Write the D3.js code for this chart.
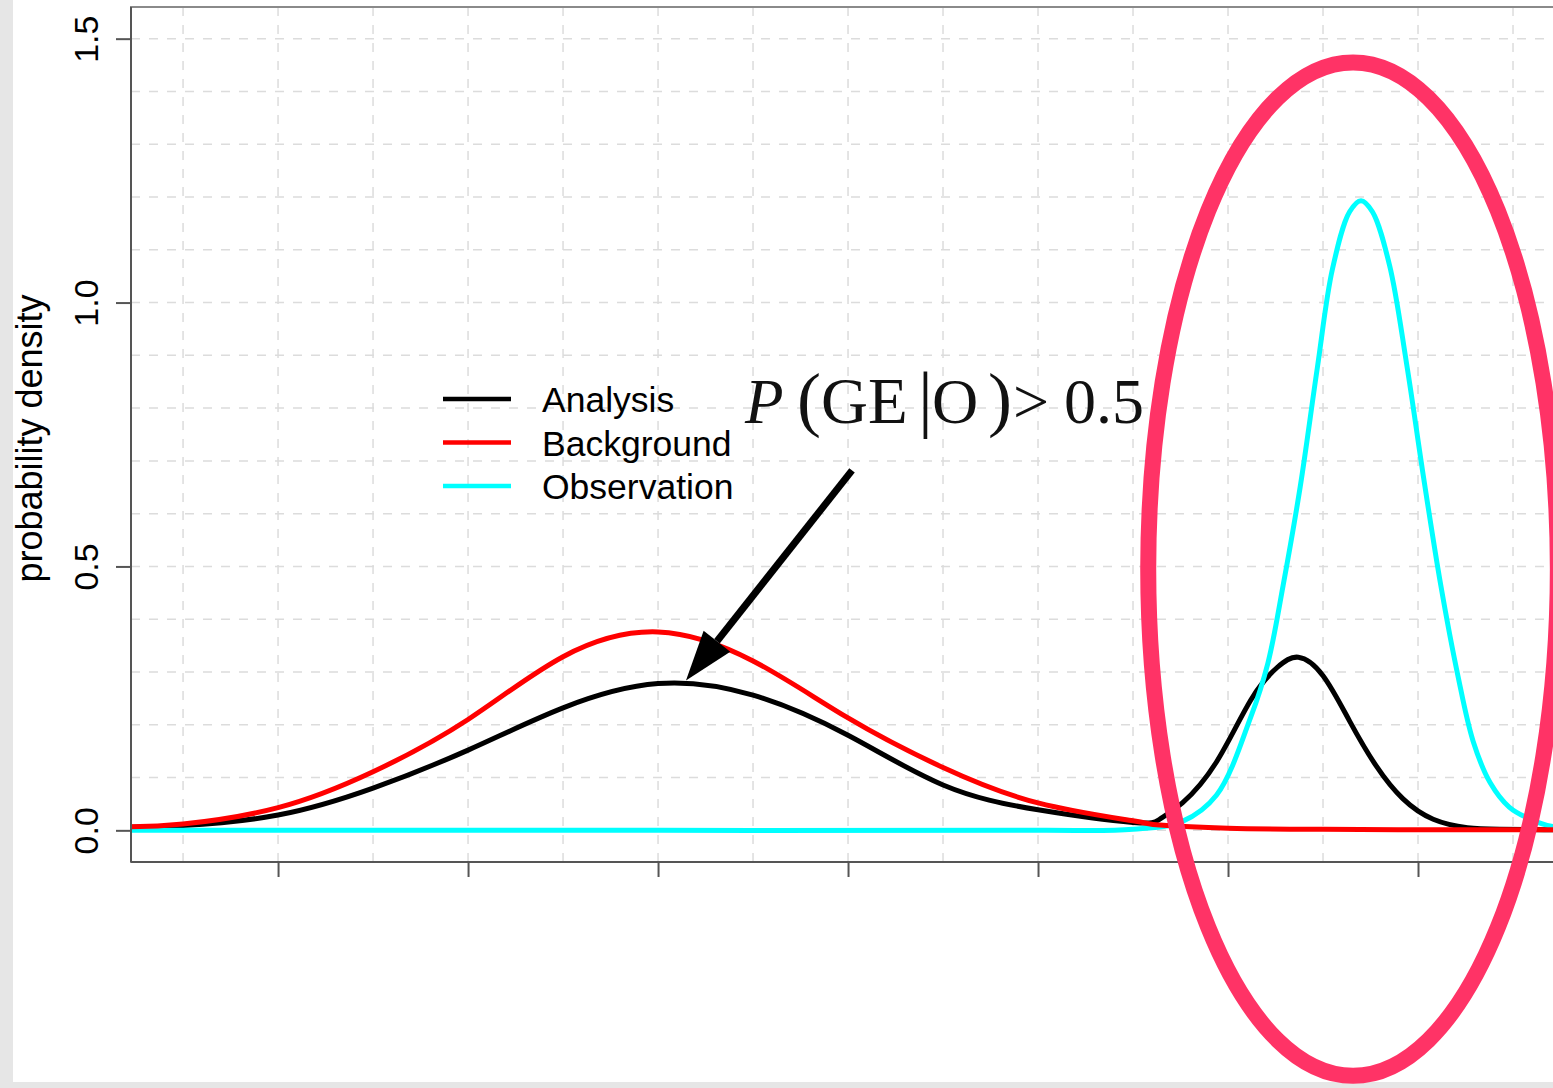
<!DOCTYPE html>
<html>
<head>
<meta charset="utf-8">
<script src="https://cdn.jsdelivr.net/npm/d3@7"></script>
<style>
  html, body { margin: 0; padding: 0; background: #e6e6e6; }
  svg { display: block; }
</style>
</head>
<body>
<div id="chart"></div>
<script>
// values (x in tick units, y = density)
var analysisX = [-2.774, -2.5, -2.0, -1.5, -1.0, -0.5, 0, 0.5, 1.0, 1.5, 2.0, 2.5, 2.64, 2.76, 2.94, 3.12, 3.26, 3.37, 3.5, 3.64, 3.78, 3.92, 4.08, 4.26, 4.43, 4.71, 5.0];
var analysisY = [0.006, 0.009, 0.029, 0.080, 0.152, 0.232, 0.278, 0.256, 0.180, 0.086, 0.039, 0.015, 0.021, 0.052, 0.130, 0.247, 0.309, 0.328, 0.293, 0.207, 0.122, 0.060, 0.021, 0.005, 0.002, 0.001, 0.001];

var backgroundX = [-2.774, -2.5, -2.0, -1.5, -1.0, -0.5, 0, 0.5, 1.0, 1.5, 2.0, 2.5, 2.64, 3.0, 3.5, 4.0, 4.5, 5.0];
var backgroundY = [0.007, 0.012, 0.043, 0.111, 0.210, 0.329, 0.376, 0.321, 0.213, 0.119, 0.052, 0.018, 0.010, 0.004, 0.002, 0.001, 0.001, 0.001];

var observationX = [-2.774, 0, 2.0, 2.5, 2.76, 2.94, 3.12, 3.21, 3.29, 3.38, 3.47, 3.55, 3.64, 3.70, 3.76, 3.85, 3.94, 4.03, 4.12, 4.21, 4.29, 4.38, 4.48, 4.59, 4.71, 5.0];
var observationY = [0, 0, 0, 0.002, 0.017, 0.067, 0.215, 0.317, 0.464, 0.651, 0.876, 1.064, 1.172, 1.193, 1.172, 1.071, 0.884, 0.667, 0.464, 0.293, 0.169, 0.090, 0.044, 0.021, 0.007, 0.001];

var seriesNames = ['Analysis', 'Background', 'Observation'];
var seriesColors = ['#000000', '#ff0000', '#00ffff'];

var yTicks = [0, 0.5, 1.0, 1.5];
var yTickLabels = ['0.0', '0.5', '1.0', '1.5'];
var xTicks = [-2, -1, 0, 1, 2, 3, 4];
var yLabel = 'probability density';

var W = 1553, H = 1088;
var plot = {left: 131, top: 7, right: 1608, bottom: 862};

var svg = d3.select('#chart').append('svg')
    .attr('width', W)
    .attr('height', H);

svg.append('rect').attr('width', W).attr('height', H).attr('fill', '#e6e6e6');
svg.append('rect').attr('x', 13).attr('y', 0).attr('width', W - 13).attr('height', 1082).attr('fill', '#ffffff');

var x = d3.scaleLinear().domain([-2.774, 5.0]).range([plot.left, plot.right]);
var y = d3.scaleLinear().domain([-0.06, 1.56]).range([plot.bottom, plot.top]);

svg.append('clipPath').attr('id', 'clip')
  .append('rect')
    .attr('x', plot.left).attr('y', plot.top)
    .attr('width', plot.right - plot.left).attr('height', plot.bottom - plot.top);

var body = svg.append('g').attr('clip-path', 'url(#clip)');

// dashed grid
body.selectAll('.vgrid')
    .data(d3.range(-2.5, 5.01, 0.5))
    .enter().append('line')
        .attr('x1', function(d) { return x(d); })
        .attr('x2', function(d) { return x(d); })
        .attr('y1', plot.top).attr('y2', plot.bottom)
        .attr('stroke', '#dcdcdc').attr('stroke-width', 1.5)
        .attr('stroke-dasharray', '9,9');

body.selectAll('.hgrid')
    .data(d3.range(0, 1.51, 0.1))
    .enter().append('line')
        .attr('x1', plot.left).attr('x2', plot.right)
        .attr('y1', function(d) { return y(d); })
        .attr('y2', function(d) { return y(d); })
        .attr('stroke', '#dcdcdc').attr('stroke-width', 1.5)
        .attr('stroke-dasharray', '9,9');

function makeLine(curve) {
    return d3.line()
        .x(function(d) { return x(d[0]); })
        .y(function(d) { return y(Math.max(0, d[1])); })
        .curve(curve);
}
var smooth = makeLine(d3.curveNatural);
var sharp = makeLine(d3.curveCatmullRom.alpha(0.5));

function pairs(xs, ys) { return xs.map(function(v, i) { return [v, ys[i]]; }); }

var curves = [
    {data: pairs(analysisX, analysisY), color: seriesColors[0], line: smooth},
    {data: pairs(observationX, observationY), color: seriesColors[2], line: sharp},
    {data: pairs(backgroundX, backgroundY), color: seriesColors[1], line: smooth}
];

curves.forEach(function(c) {
    body.append('path')
        .attr('d', c.line(c.data))
        .attr('fill', 'none')
        .attr('stroke', c.color)
        .attr('stroke-width', 5)
        .attr('stroke-linejoin', 'round');
});

// box
svg.append('rect')
    .attr('x', plot.left).attr('y', plot.top)
    .attr('width', plot.right - plot.left).attr('height', plot.bottom - plot.top)
    .attr('fill', 'none').attr('stroke', '#8a8a8a').attr('stroke-width', 2);
svg.append('line').attr('x1', plot.left).attr('x2', plot.left)
    .attr('y1', plot.top).attr('y2', plot.bottom)
    .attr('stroke', '#555').attr('stroke-width', 2);
svg.append('line').attr('x1', plot.left).attr('x2', plot.right)
    .attr('y1', plot.bottom).attr('y2', plot.bottom)
    .attr('stroke', '#555').attr('stroke-width', 2);

// axes
var yAxis = d3.axisLeft(y).tickValues(yTicks)
    .tickFormat(function(d, i) { return yTickLabels[i]; })
    .tickSize(15).tickPadding(18);
var gy = svg.append('g').attr('transform', 'translate(' + plot.left + ',0)').call(yAxis);
gy.select('.domain').remove();
gy.selectAll('line').attr('stroke', '#555').attr('stroke-width', 2);
gy.selectAll('text')
    .attr('font-family', 'Liberation Sans, Arial, sans-serif')
    .attr('font-size', 34)
    .attr('fill', '#000')
    .attr('text-anchor', 'middle')
    .attr('dy', null)
    .attr('x', null)
    .attr('transform', 'translate(-33,0) rotate(-90)');

var xAxis = d3.axisBottom(x).tickValues(xTicks).tickFormat('').tickSize(15);
var gx = svg.append('g').attr('transform', 'translate(0,' + plot.bottom + ')').call(xAxis);
gx.select('.domain').remove();
gx.selectAll('line').attr('stroke', '#555').attr('stroke-width', 2);

svg.append('text')
    .attr('transform', 'translate(42,' + ((plot.top + plot.bottom) / 2 + 4) + ') rotate(-90)')
    .attr('text-anchor', 'middle')
    .attr('font-family', 'Liberation Sans, Arial, sans-serif')
    .attr('font-size', 36)
    .attr('fill', '#000')
    .text(yLabel);

// legend
var legend = svg.append('g').attr('transform', 'translate(443,399)');
seriesNames.forEach(function(name, i) {
    legend.append('line')
        .attr('x1', 0).attr('x2', 68)
        .attr('y1', i * 43.5).attr('y2', i * 43.5)
        .attr('stroke', seriesColors[i]).attr('stroke-width', 4.5);
    legend.append('text')
        .attr('x', 99).attr('y', i * 43.5 + 13)
        .attr('font-family', 'Liberation Sans, Arial, sans-serif')
        .attr('font-size', 35.5)
        .attr('fill', '#000')
        .text(name);
});

// annotation: P(GE|O) > 0.5 with arrow
var ann = svg.append('g')
    .attr('transform', 'translate(' + x(0.458) + ',' + y(0.772) + ')')
    .attr('font-family', 'Liberation Serif, Times New Roman, serif')
    .attr('fill', '#111');
var pieces = [
    {t: 'P', dx: 0, size: 63, italic: true},
    {t: '(', dx: 52, size: 72},
    {t: 'GE', dx: 76, size: 65},
    {t: '|', dx: 173, size: 74},
    {t: 'O', dx: 187, size: 64},
    {t: ')', dx: 243, size: 72},
    {t: '>', dx: 268, size: 64},
    {t: '0.5', dx: 319, size: 64}
];
pieces.forEach(function(p) {
    ann.append('text')
        .attr('x', p.dx).attr('y', 0)
        .attr('font-size', p.size)
        .attr('font-style', p.italic ? 'italic' : 'normal')
        .text(p.t);
});

var tail = [x(1.021), y(0.682)], tip = [x(0.147), y(0.284)];
var ang = Math.atan2(tip[1] - tail[1], tip[0] - tail[0]);
var headLen = 50, headHalf = 17;
var base = [tip[0] - headLen * Math.cos(ang), tip[1] - headLen * Math.sin(ang)];
svg.append('line')
    .attr('x1', tail[0]).attr('y1', tail[1])
    .attr('x2', base[0]).attr('y2', base[1])
    .attr('stroke', '#000').attr('stroke-width', 7);
svg.append('polygon')
    .attr('points', [
        tip,
        [base[0] + headHalf * Math.sin(ang), base[1] - headHalf * Math.cos(ang)],
        [base[0] - headHalf * Math.sin(ang), base[1] + headHalf * Math.cos(ang)]
    ].map(function(p) { return p.join(','); }).join(' '))
    .attr('fill', '#000');

// highlight ring round the observation peak
svg.append('ellipse')
    .attr('cx', x(3.658)).attr('cy', y(0.495))
    .attr('rx', x(3.658) - x(2.58)).attr('ry', y(-0.465) - y(0.495))
    .attr('fill', 'none')
    .attr('stroke', '#ff3366')
    .attr('stroke-width', 16);
</script>
</body>
</html>
